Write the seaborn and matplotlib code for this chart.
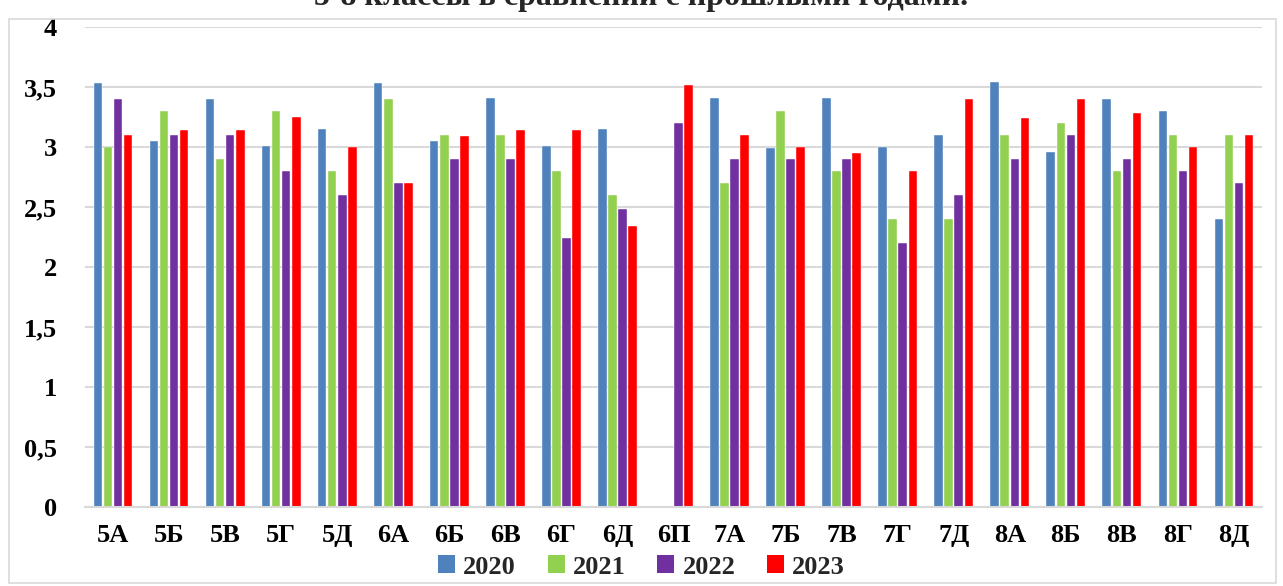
import numpy as np
import pandas as pd
import matplotlib
matplotlib.use("Agg")
import matplotlib.pyplot as plt
import seaborn as sns
from matplotlib.patches import Rectangle, Patch

classes = ["5А", "5Б", "5В", "5Г", "5Д", "6А", "6Б", "6В", "6Г", "6Д", "6П",
           "7А", "7Б", "7В", "7Г", "7Д", "8А", "8Б", "8В", "8Г", "8Д"]
years = ["2020", "2021", "2022", "2023"]
v2020 = [3.53, 3.05, 3.40, 3.01, 3.15, 3.53, 3.05, 3.41, 3.01, 3.15, np.nan,
         3.41, 2.99, 3.41, 3.00, 3.10, 3.54, 2.96, 3.40, 3.30, 2.40]
v2021 = [3.00, 3.30, 2.90, 3.30, 2.80, 3.40, 3.10, 3.10, 2.80, 2.60, np.nan,
         2.70, 3.30, 2.80, 2.40, 2.40, 3.10, 3.20, 2.80, 3.10, 3.10]
v2022 = [3.40, 3.10, 3.10, 2.80, 2.60, 2.70, 2.90, 2.90, 2.24, 2.48, 3.20,
         2.90, 2.90, 2.90, 2.20, 2.60, 2.90, 3.10, 2.90, 2.80, 2.70]
v2023 = [3.10, 3.14, 3.14, 3.25, 3.00, 2.70, 3.09, 3.14, 3.14, 2.34, 3.52,
         3.10, 3.00, 2.95, 2.80, 3.40, 3.24, 3.40, 3.28, 3.00, 3.10]
yticks = [0, 0.5, 1, 1.5, 2, 2.5, 3, 3.5, 4]
ytick_labels = ["0", "0,5", "1", "1,5", "2", "2,5", "3", "3,5", "4"]
title = "5-8 классы в сравнении с прошлыми годами."
colors = ["#4F81BD", "#92D050", "#7030A0", "#FF0000"]

rows = []
for yr, vals in zip(years, [v2020, v2021, v2022, v2023]):
    for c, v in zip(classes, vals):
        rows.append({"class": c, "year": yr, "score": v})
df = pd.DataFrame(rows)

sns.set_theme(style="white")
plt.rcParams["font.family"] = ["Liberation Serif", "DejaVu Serif"]
plt.rcParams["font.weight"] = "bold"

W, H = 1283, 586
fig = plt.figure(figsize=(W / 100, H / 100), dpi=100)
ax = fig.add_axes([85 / W, 1 - 507 / H, (1262 - 85) / W, (507 - 27) / H])

sns.barplot(data=df, x="class", y="score", hue="year", order=classes,
            hue_order=years, palette=colors, saturation=1, width=0.72,
            gap=0.15, edgecolor="white", linewidth=0.3, ax=ax, legend=False,
            errorbar=None)

ax.set_xlim(-0.5, len(classes) - 0.5)
ax.set_ylim(0, 4)
ax.set_yticks(yticks)
ax.set_yticklabels(ytick_labels, fontsize=19, fontweight="bold")
ax.set_xticks(range(len(classes)))
ax.set_xticklabels(classes, fontsize=19, fontweight="bold")
ax.tick_params(axis="y", length=0, pad=20, colors="black")
ax.tick_params(axis="x", length=0, pad=12, colors="black")
ax.set_xlabel("")
ax.set_ylabel("")
ax.grid(axis="y", color="#D9D9D9", linewidth=1.5)
ax.set_axisbelow(True)
for s in ["top", "right", "left"]:
    ax.spines[s].set_visible(False)
ax.spines["bottom"].set_color("#D9D9D9")
ax.spines["bottom"].set_linewidth(1.5)

handles = [Patch(facecolor=c, edgecolor="none", label=y) for c, y in zip(colors, years)]
fig.legend(handles=handles, loc="center", bbox_to_anchor=(0.5, 1 - 567 / H),
           ncol=4, frameon=False, prop={"size": 19, "weight": "bold"},
           handlelength=0.65, handleheight=0.65, handletextpad=0.3,
           columnspacing=1.2)

fig.patches.append(Rectangle((9 / W, 1 - 583 / H), (1276 - 9) / W, (583 - 19) / H,
                             transform=fig.transFigure, fill=False,
                             edgecolor="#D9D9D9", linewidth=1.2))

fig.text(0.5, 1 - 5 / H, title, ha="center", va="baseline", fontsize=23,
         fontweight="bold")

fig.savefig("out.png", dpi=100)
